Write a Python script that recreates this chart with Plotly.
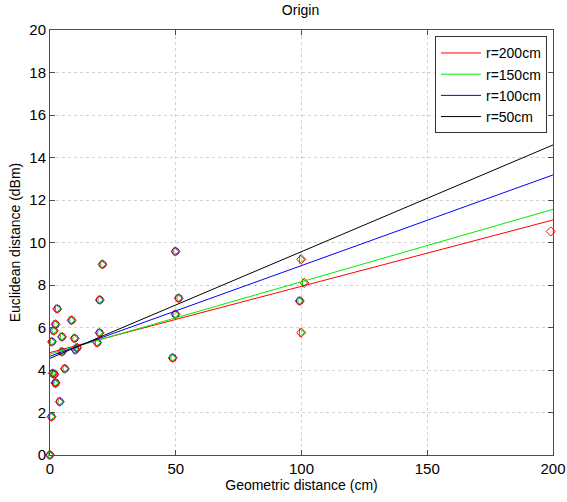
import plotly.graph_objects as go

# measured points: geometric distance (cm) vs euclidean distance (dBm)
dist_cm = [0, 0.6, 1.1, 2.2, 1.8, 2.2, 3.9, 5.9, 0.8, 1.5, 2.2, 2.9, 4.8, 8.6, 9.8, 4.8,
           10.1, 10.8, 19.7, 19.8, 20.9, 18.8, 49.9, 51.2, 49.9, 48.8, 99.9, 101.1, 99.3, 99.9, 199.1]
eucl_dbm = [0.0, 1.80, 3.84, 3.40, 3.80, 3.38, 2.51, 4.06, 5.33, 5.85, 6.15, 6.88, 5.56, 6.34, 5.49, 4.86,
            4.95, 5.05, 5.75, 7.30, 8.97, 5.29, 9.58, 7.38, 6.62, 4.57, 9.21, 8.10, 7.25, 5.76, 10.52]

# fitted lines: value at x=0 and at x=200
fit_names = ["r=200cm", "r=150cm", "r=100cm", "r=50cm"]
fit_colors = ["#ff0000", "#00ee00", "#0000ff", "#000000"]
fit_start = [4.82, 4.75, 4.65, 4.55]
fit_end = [11.06, 11.56, 13.18, 14.59]
fit_x = [0, 200]

# marker series (drawn in this order) with the max distance of their points
marker_series = [
    ("circle-open", "#0000ff", 99.5),
    ("triangle-right-open", "#00cc00", 150),
    ("diamond-open", "#ff0000", 250),
]

x_ticks = [0, 50, 100, 150, 200]
y_ticks = list(range(0, 21, 2))

fig = go.Figure()

for sym, col, lim in marker_series:
    xs = [x for x in dist_cm if x <= lim]
    ys = [y for x, y in zip(dist_cm, eucl_dbm) if x <= lim]
    fig.add_trace(go.Scatter(
        x=xs, y=ys, mode="markers", showlegend=False, cliponaxis=False,
        marker=dict(symbol=sym, size=7, color=col, line=dict(width=1, color=col)),
    ))

for name, col, y0, y1 in zip(fit_names, fit_colors, fit_start, fit_end):
    fig.add_trace(go.Scatter(
        x=fit_x, y=[y0, y1], mode="lines", name=name,
        line=dict(color=col, width=1),
    ))

font_family = "Liberation Sans, Arial, sans-serif"
axis_common = dict(
    showline=True, mirror="ticks", linecolor="#4d4d4d", linewidth=1,
    ticks="inside", ticklen=5, tickcolor="#4d4d4d",
    showgrid=True, gridcolor="#d2d2d2", griddash="dot", gridwidth=1,
    zeroline=False, tickfont=dict(size=15, color="#000000", family=font_family),
    automargin=False, ticklabeloverflow="allow",
)

fig.update_layout(
    width=567, height=502,
    margin=dict(l=50, r=14, t=30, b=47),
    paper_bgcolor="white", plot_bgcolor="white",
    font=dict(family=font_family, color="#000000", size=14),
    title=dict(text="Origin", x=0.53, xanchor="center", y=0.99, yanchor="top",
               font=dict(size=14, family=font_family)),
    xaxis=dict(range=[0, 200], tickvals=x_ticks, **axis_common,
               title=dict(text="Geometric distance (cm)", standoff=3,
                          font=dict(size=14, family=font_family))),
    yaxis=dict(range=[0, 20], tickvals=y_ticks, **axis_common,
               title=dict(text="Euclidean distance (dBm)", standoff=5,
                          font=dict(size=14, family=font_family))),
    legend=dict(x=0.988, y=0.985, xanchor="right", yanchor="top",
                bgcolor="white", bordercolor="#333333", borderwidth=1,
                font=dict(size=14, family=font_family), tracegroupgap=0,
                itemwidth=40),
    showlegend=True,
)

fig.write_html("out.html")
